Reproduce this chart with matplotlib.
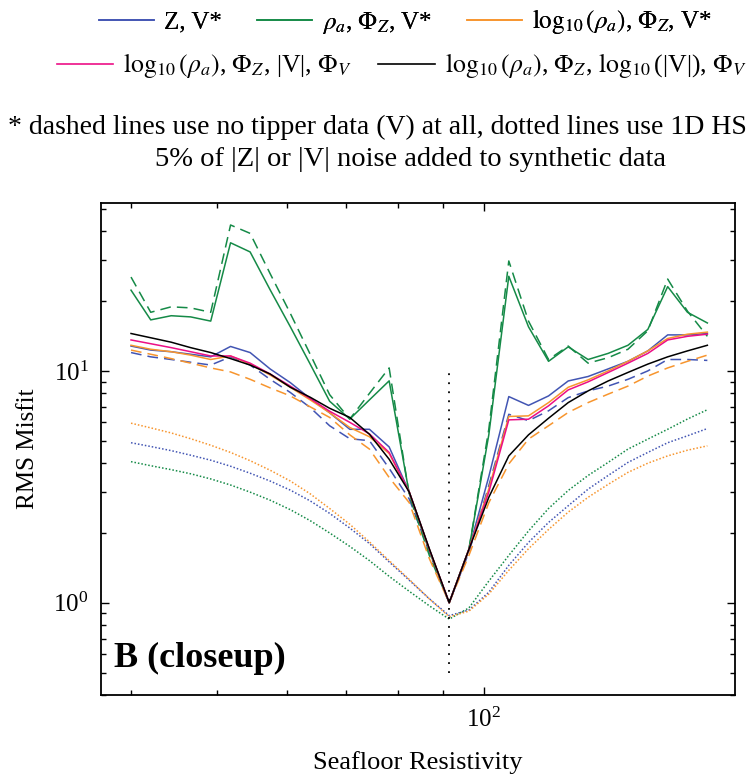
import numpy as np
import matplotlib
matplotlib.use("Agg")
import matplotlib.pyplot as plt
from matplotlib.lines import Line2D
from matplotlib.ticker import LogLocator, NullFormatter

plt.rcParams['font.family'] = ['Liberation Serif', 'DejaVu Serif']
plt.rcParams['mathtext.fontset'] = 'stix'

# Seafloor resistivity (x)
rho = [40.0, 42.1, 44.4, 46.7, 49.2, 51.8, 54.5, 57.4, 60.5, 63.7, 67.0, 70.6, 74.3,
       78.2, 82.4, 86.8, 91.4, 96.2, 101.3, 106.7, 112.3, 118.3, 124.5, 131.1, 138.1,
       145.4, 153.1, 161.2, 169.7, 178.7]

# Solid lines (with tipper)
z_v = [12.8, 12.3, 12.1, 11.8, 11.5, 12.75, 12.0, 10.2, 8.9, 7.6, 6.6, 5.6, 5.6, 4.7,
       3.0, 1.7, 1.0, 1.7, 3.5, 7.75, 7.1, 7.8, 9.05, 9.46, 10.2, 11.0, 12.2, 14.3, 14.3, 14.5]
rho_phi_v = [22.3, 16.6, 17.3, 17.1, 16.4, 35.7, 32.6, 22.4, 15.5, 10.7, 7.4, 6.2, 7.5, 9.06,
             2.95, 1.67, 1.0, 1.7, 5.3, 25.6, 15.5, 11.0, 12.7, 11.2, 11.9, 12.9, 15.1, 23.1, 17.9, 16.1]
logrho_phi_v = [12.9, 12.4, 12.1, 11.7, 11.2, 11.6, 10.7, 9.6, 8.5, 7.5, 6.6, 5.7, 5.2, 4.4,
                3.0, 1.7, 1.0, 1.7, 3.1, 6.36, 6.4, 7.3, 8.5, 9.15, 10.0, 11.0, 12.2, 13.8, 14.4, 14.7]
logrho_phi_absv = [13.6, 13.1, 12.6, 12.1, 11.6, 11.6, 10.8, 9.7, 8.6, 7.6, 6.7, 6.0, 5.35, 4.45,
                   3.0, 1.7, 1.0, 1.7, 3.0, 6.15, 6.19, 7.07, 8.28, 8.97, 9.84, 10.8, 11.9, 13.6, 14.1, 14.4]
logrho_phi_logv = [14.5, 13.9, 13.3, 12.6, 12.0, 11.3, 10.6, 9.7, 8.5, 7.7, 6.9, 6.3, 5.33, 4.16,
                   3.0, 1.71, 1.0, 1.7, 2.85, 4.3, 5.3, 6.25, 7.3, 8.2, 9.05, 9.85, 10.7, 11.5, 12.2, 12.9]

# Dashed lines (no tipper)
z_nov = [12.0, 11.5, 11.2, 10.9, 10.6, 11.5, 10.6, 9.2, 8.07, 6.95, 5.8, 5.1, 5.0, 3.8,
         2.8, 1.65, 1.0, 1.65, 3.2, 6.5, 6.1, 6.73, 7.67, 8.2, 8.6, 9.2, 10.0, 11.2, 11.2, 11.1]
rho_phi_nov = [25.4, 17.9, 18.9, 18.7, 17.9, 42.6, 39.2, 26.3, 17.7, 11.8, 7.9, 6.2, 8.0, 10.3,
               2.9, 1.6, 1.0, 1.7, 5.6, 29.8, 16.4, 11.2, 12.8, 10.8, 11.4, 12.4, 14.9, 24.9, 18.1, 14.1]
logrho_phi_nov = [12.3, 11.8, 11.3, 10.8, 10.3, 9.9, 9.2, 8.45, 7.8, 7.0, 6.3, 5.3, 4.6, 3.47,
                  2.7, 1.55, 1.0, 1.6, 2.7, 3.97, 5.08, 5.8, 6.62, 7.3, 7.94, 8.6, 9.5, 10.3, 11.0, 11.7]

# Dotted lines (1D half-space)
z_hs = [4.9, 4.72, 4.53, 4.33, 4.12, 3.88, 3.62, 3.35, 3.06, 2.75, 2.43, 2.1, 1.8, 1.5,
        1.25, 1.04, 0.88, 0.93, 1.11, 1.45, 1.82, 2.22, 2.62, 3.09, 3.54, 4.03, 4.45, 4.9, 5.25, 5.64]
rho_phi_hs = [4.06, 3.9, 3.75, 3.6, 3.42, 3.22, 3.0, 2.77, 2.52, 2.26, 2.0, 1.75, 1.52, 1.3,
              1.12, 0.97, 0.85, 0.95, 1.24, 1.6, 2.04, 2.55, 3.05, 3.54, 4.03, 4.6, 5.08, 5.6, 6.2, 6.8]
logrho_phi_hs = [5.95, 5.68, 5.4, 5.1, 4.78, 4.45, 4.1, 3.73, 3.35, 2.95, 2.55, 2.18, 1.83, 1.52,
                 1.26, 1.04, 0.87, 0.92, 1.09, 1.38, 1.71, 2.07, 2.46, 2.85, 3.24, 3.65, 4.0, 4.3, 4.55, 4.75]

true_rho = 91.4
marker_range = [0.5, 10.0]

BLUE = '#4255b3'
GREEN = '#158a47'
ORANGE = '#f7952e'
MAGENTA = '#ec0f86'
BLACK = '#000000'

fig = plt.figure(figsize=(7.47, 7.76), dpi=100)
ax = fig.add_axes([101/747, 1-695/776, (735-101)/747, (695-203)/776])

lw = 1.1
dash = (0, (7, 4))
dot = (0, (1, 1.3))

ax.plot(rho, z_hs, color=BLUE, lw=lw, ls=dot)
ax.plot(rho, rho_phi_hs, color=GREEN, lw=lw, ls=dot)
ax.plot(rho, logrho_phi_hs, color=ORANGE, lw=lw, ls=dot)

ax.plot(rho, z_nov, color=BLUE, lw=lw, ls=dash)
ax.plot(rho, rho_phi_nov, color=GREEN, lw=lw, ls=dash)
ax.plot(rho, logrho_phi_nov, color=ORANGE, lw=lw, ls=dash)

ax.plot(rho, z_v, color=BLUE, lw=lw)
ax.plot(rho, rho_phi_v, color=GREEN, lw=lw)
ax.plot(rho, logrho_phi_v, color=ORANGE, lw=lw)
ax.plot(rho, logrho_phi_absv, color=MAGENTA, lw=lw)
ax.plot(rho, logrho_phi_logv, color=BLACK, lw=lw)

ax.plot([true_rho, true_rho], marker_range, color='black', lw=1.3, ls=(0, (1, 4)))

ax.set_xscale('log')
ax.set_yscale('log')
ax.set_xlim(37.0, 192.0)
ax.set_ylim(0.40, 53.0)

ax.xaxis.set_minor_formatter(NullFormatter())
ax.yaxis.set_minor_formatter(NullFormatter())
ax.tick_params(which='both', direction='in', top=True, right=True, labelsize=18, width=1.0)
ax.tick_params(which='major', length=6, pad=9)
ax.tick_params(which='minor', length=3.5)
for s in ax.spines.values():
    s.set_linewidth(1.3)

ax.set_xlabel('Seafloor Resistivity', fontsize=19, labelpad=14)
ax.set_ylabel('RMS Misfit', fontsize=18, labelpad=10)

ax.text(0.02, 0.04, 'B (closeup)', transform=ax.transAxes, fontsize=26,
        fontweight='bold', ha='left', va='bottom')

h = lambda c: Line2D([], [], color=c, lw=1.2)
leg1 = fig.legend([h(BLUE), h(GREEN), h(ORANGE)],
                  ['Z, V*', r'$\rho_a$, $\Phi_Z$, V*', r'$\log_{10}(\rho_a)$, $\Phi_Z$, V*'],
                  loc='center', bbox_to_anchor=(405/747, 1-22/776), ncol=3, frameon=False,
                  fontsize=18, handlelength=2.2, columnspacing=1.4, handletextpad=0.4)
leg2 = fig.legend([h(MAGENTA), h(BLACK)],
                  [r'$\log_{10}(\rho_a)$, $\Phi_Z$, |V|, $\Phi_V$',
                   r'$\log_{10}(\rho_a)$, $\Phi_Z$, $\log_{10}$(|V|), $\Phi_V$'],
                  loc='center', bbox_to_anchor=(402/747, 1-66/776), ncol=2, frameon=False,
                  fontsize=18.5, handlelength=2.2, columnspacing=1.0, handletextpad=0.4)
fig.add_artist(leg1)

fig.text(377/747, 1-127/776, '* dashed lines use no tipper data (V) at all, dotted lines use 1D HS',
         ha='center', va='center', fontsize=20)
fig.text(410/747, 1-160/776, '5% of |Z| or |V| noise added to synthetic data',
         ha='center', va='center', fontsize=20.5)

fig.savefig('out.png', dpi=100)
